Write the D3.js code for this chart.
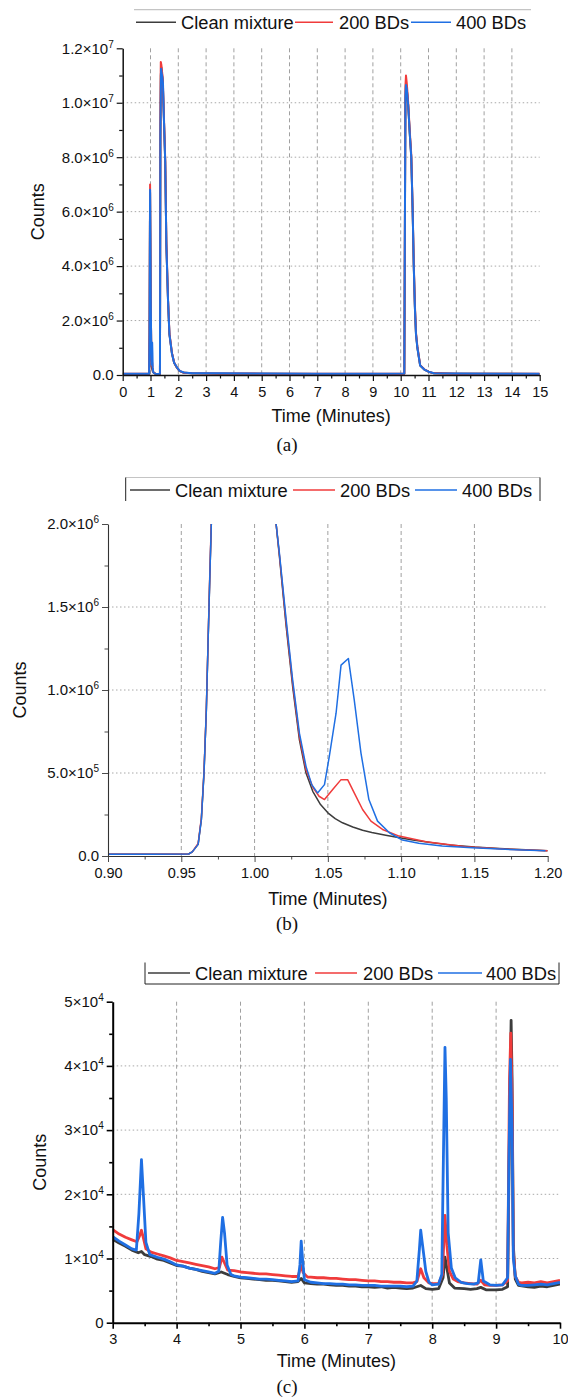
<!DOCTYPE html>
<html>
<head>
<meta charset="utf-8">
<script src="https://cdn.jsdelivr.net/npm/d3@7"></script>
<style>
body { margin: 0; background: #fff; }
</style>
</head>
<body>
<svg id="fig" width="568" height="1398"></svg>
<script>
var seriesNames = ["Clean mixture", "200 BDs", "400 BDs"]
var seriesColors = ["#3c3c3c", "#f03b3b", "#1f6fe3"]

// (a) full run, 0-15 min
var cleanA = [[0,40000],[0.95,40000],[0.965,1500000],[0.975,4200000],[0.985,6700000],[0.995,5200000],[1.01,2500000],[1.03,700000],[1.05,260000],[1.08,140000],[1.12,80000],[1.2,35000],[1.34,40000],
  [1.345,2500000],[1.355,8500000],[1.37,11000000],[1.39,11300000],[1.41,11100000],[1.44,10800000],[1.48,9500000],[1.53,7800000],[1.57,4800000],[1.63,2750000],[1.68,1500000],[1.77,800000],[1.85,450000],[1.94,280000],[2.05,140000],[2.2,80000],[2.5,60000],[3.5,50000],[5,45000],[7,40000],[9,40000],[10.1,45000],
  [10.13,45000],[10.15,5000000],[10.17,10000000],[10.19,10700000],[10.22,10500000],[10.27,9900000],[10.33,8800000],[10.38,8000000],[10.43,6000000],[10.47,4000000],[10.51,2500000],[10.55,1500000],[10.6,1000000],[10.7,350000],[10.85,200000],[11,120000],[11.2,60000],[12,50000],[13.5,45000],[15,40000]]
var bd200A = [[0,45000],[0.95,45000],[0.965,1600000],[0.975,4400000],[0.985,7000000],[0.995,5300000],[1.01,2600000],[1.03,750000],[1.045,350000],[1.06,460000],[1.075,220000],[1.1,100000],[1.2,35000],[1.34,45000],
  [1.345,2800000],[1.355,9000000],[1.37,11500000],[1.39,11400000],[1.41,11200000],[1.44,10900000],[1.48,9600000],[1.53,7900000],[1.57,4900000],[1.63,2800000],[1.68,1550000],[1.77,820000],[1.85,460000],[1.94,290000],[2.05,150000],[2.2,80000],[2.5,60000],[3.5,55000],[5,50000],[7,45000],[9,45000],[10.1,50000],
  [10.13,50000],[10.15,5500000],[10.17,10600000],[10.19,11000000],[10.22,10700000],[10.27,10000000],[10.33,8900000],[10.38,8100000],[10.43,6100000],[10.47,4100000],[10.51,2600000],[10.55,1550000],[10.6,1050000],[10.7,360000],[10.85,210000],[11,120000],[11.2,60000],[12,50000],[13.5,45000],[15,45000]]
var bd400A = [[0,50000],[0.95,50000],[0.965,1500000],[0.975,4200000],[0.985,6800000],[0.995,5200000],[1.01,2600000],[1.03,760000],[1.043,380000],[1.052,700000],[1.06,1190000],[1.07,800000],[1.08,280000],[1.1,100000],[1.13,70000],[1.2,40000],[1.34,50000],
  [1.345,2700000],[1.355,8800000],[1.38,11250000],[1.4,11100000],[1.43,10900000],[1.45,10700000],[1.48,9500000],[1.53,7800000],[1.57,4800000],[1.63,2750000],[1.68,1500000],[1.77,800000],[1.85,450000],[1.94,300000],[2.05,150000],[2.2,90000],[2.5,65000],[3.5,60000],[5,55000],[7,50000],[9,50000],[10.1,55000],
  [10.13,55000],[10.15,5200000],[10.17,10200000],[10.19,10650000],[10.22,10500000],[10.27,9900000],[10.33,8800000],[10.38,8000000],[10.43,6050000],[10.47,4000000],[10.51,2500000],[10.55,1500000],[10.6,1000000],[10.7,350000],[10.85,200000],[11,120000],[11.2,65000],[12,55000],[13.5,50000],[15,50000]]

// (b) zoom on the first peak, 0.90-1.20 min
var cleanB = [[0.9,10000],[0.93,10000],[0.955,12000],[0.9575,25000],[0.9615,70000],[0.9637,220000],[0.9655,500000],[0.9671,880000],[0.9682,1260000],[0.9694,1660000],[0.9705,2000000],[0.975,4000000],[0.985,6800000],[0.995,5000000],[1.005,3000000],[1.0147,2000000],[1.017,1800000],[1.0216,1380000],[1.026,1020000],[1.0306,700000],[1.0351,500000],[1.0397,390000],[1.045,310000],[1.05,260000],[1.055,225000],[1.06,200000],[1.067,175000],[1.0737,155000],[1.08,142000],[1.0895,125000],[1.1,108000],[1.108,96000],[1.12,82000],[1.133,67000],[1.15,54000],[1.167,45000],[1.185,38000],[1.2,32000]]
var bd200B = [[0.9,10000],[0.93,10000],[0.955,12000],[0.9575,25000],[0.9615,75000],[0.9637,230000],[0.9655,510000],[0.9671,890000],[0.9682,1270000],[0.9694,1680000],[0.9705,2020000],[0.975,4100000],[0.985,6900000],[0.995,5000000],[1.005,3000000],[1.0147,2000000],[1.017,1810000],[1.0216,1400000],[1.026,1040000],[1.0306,720000],[1.0351,520000],[1.04,410000],[1.044,360000],[1.0477,340000],[1.0533,400000],[1.059,460000],[1.0635,460000],[1.068,380000],[1.0737,280000],[1.0794,210000],[1.0873,160000],[1.0986,120000],[1.117,86000],[1.144,56000],[1.17,42000],[1.2,32000]]
var bd400B = [[0.9,10000],[0.93,10000],[0.955,12000],[0.9575,25000],[0.9615,70000],[0.9637,220000],[0.9655,500000],[0.9671,880000],[0.9682,1260000],[0.9694,1660000],[0.9705,2000000],[0.975,4000000],[0.985,6800000],[0.995,5000000],[1.005,3000000],[1.0147,2000000],[1.017,1820000],[1.0216,1420000],[1.026,1060000],[1.0306,740000],[1.0351,540000],[1.039,430000],[1.043,380000],[1.0477,430000],[1.051,600000],[1.0556,860000],[1.059,1150000],[1.064,1190000],[1.068,940000],[1.0726,620000],[1.078,340000],[1.0839,210000],[1.092,140000],[1.1009,96000],[1.112,77000],[1.128,60000],[1.1485,50000],[1.171,40000],[1.1985,32000]]

// (c) low-level region, 3-10 min
var cleanC = [[3.0,13000],[3.1,12400],[3.2,11900],[3.3,11300],[3.4,10900],[3.45,11100],[3.5,10600],[3.6,10300],[3.7,9900],[3.8,9700],[3.9,9300],[4.0,8900],[4.1,8800],[4.2,8500],[4.3,8300],[4.4,8000],[4.5,7800],[4.6,7600],[4.7,7900],[4.8,7500],[4.9,7200],[5.0,7000],[5.1,6900],[5.2,6800],[5.3,6700],[5.4,6600],[5.5,6600],[5.6,6500],[5.7,6400],[5.8,6300],[5.9,6400],[5.95,6900],[6.0,6200],[6.1,6100],[6.2,6000],[6.3,6000],[6.4,5900],[6.5,5800],[6.6,5800],[6.7,5700],[6.8,5700],[6.9,5600],[7.0,5600],[7.1,5500],[7.2,5600],[7.3,5400],[7.4,5500],[7.5,5400],[7.6,5300],[7.7,5400],[7.82,5800],[7.9,5300],[8.0,5200],[8.1,5300],[8.17,7000],[8.2,10200],[8.23,8500],[8.27,6200],[8.35,5400],[8.5,5300],[8.6,5200],[8.7,5300],[8.76,5500],[8.85,5100],[9.0,5100],[9.1,5200],[9.18,5600],[9.21,30000],[9.235,47100],[9.25,38000],[9.27,12000],[9.3,6800],[9.35,5800],[9.5,5600],[9.6,5500],[9.7,5700],[9.8,5600],[9.9,5800],[10.0,6000]]
var bd200C = [[3.0,14500],[3.1,13800],[3.2,13300],[3.3,12900],[3.38,12600],[3.42,13500],[3.45,14400],[3.48,13200],[3.52,11500],[3.6,11000],[3.7,10700],[3.8,10400],[3.9,10100],[4.0,9700],[4.1,9500],[4.2,9300],[4.3,9100],[4.4,8900],[4.5,8700],[4.6,8400],[4.67,8600],[4.71,10200],[4.75,9300],[4.8,8200],[4.9,8100],[5.0,7900],[5.1,7800],[5.2,7700],[5.3,7600],[5.4,7600],[5.5,7500],[5.6,7400],[5.7,7300],[5.8,7200],[5.9,7200],[5.95,8900],[5.98,7800],[6.05,7100],[6.1,7100],[6.2,7000],[6.3,7000],[6.4,6900],[6.5,6900],[6.6,6800],[6.7,6700],[6.8,6700],[6.9,6600],[7.0,6500],[7.1,6500],[7.2,6400],[7.3,6400],[7.4,6300],[7.5,6300],[7.6,6200],[7.7,6200],[7.76,6400],[7.82,8400],[7.87,7000],[7.95,6200],[8.0,6100],[8.1,6100],[8.16,7500],[8.2,16700],[8.23,12000],[8.27,8000],[8.33,6800],[8.4,6400],[8.5,6200],[8.6,6100],[8.7,6000],[8.76,6600],[8.82,5900],[8.9,5800],[9.0,5800],[9.1,5900],[9.18,6500],[9.21,38000],[9.23,45100],[9.25,35000],[9.27,11000],[9.3,7200],[9.35,6300],[9.4,6200],[9.5,6300],[9.6,6200],[9.7,6400],[9.8,6200],[9.9,6400],[10.0,6600]]
var bd400C = [[3.0,13400],[3.1,12700],[3.2,12100],[3.3,11500],[3.37,11300],[3.41,17000],[3.45,25400],[3.48,20000],[3.52,12500],[3.58,10600],[3.7,10200],[3.8,9900],[3.9,9500],[4.0,9000],[4.1,8800],[4.2,8500],[4.3,8300],[4.4,8100],[4.5,7900],[4.6,7700],[4.66,8000],[4.69,12500],[4.72,16400],[4.75,14000],[4.79,9000],[4.85,7500],[4.9,7300],[5.0,7100],[5.1,7000],[5.2,6900],[5.3,6800],[5.4,6800],[5.5,6700],[5.6,6600],[5.7,6500],[5.8,6400],[5.9,6500],[5.93,9000],[5.95,12700],[5.97,10000],[6.0,6700],[6.1,6300],[6.2,6200],[6.3,6100],[6.4,6100],[6.5,6000],[6.6,6000],[6.7,5900],[6.8,5900],[6.9,5800],[7.0,5800],[7.1,5800],[7.2,5700],[7.3,5700],[7.4,5700],[7.5,5700],[7.6,5600],[7.7,5700],[7.76,6500],[7.8,11500],[7.82,14400],[7.85,12000],[7.9,8000],[7.95,6300],[8.0,5900],[8.1,6000],[8.15,7500],[8.17,22000],[8.2,42900],[8.22,35000],[8.25,14000],[8.3,8500],[8.36,7000],[8.45,6300],[8.55,6100],[8.65,6000],[8.72,6200],[8.76,9800],[8.8,6500],[8.9,5900],[9.0,5800],[9.1,5900],[9.18,7000],[9.2,25000],[9.225,41000],[9.25,30000],[9.27,10000],[9.3,7300],[9.35,6000],[9.4,5800],[9.5,5800],[9.6,5900],[9.7,6000],[9.8,5900],[9.9,6100],[10.0,6300]]

// tick values
var xTicksA = [0,1,2,3,4,5,6,7,8,9,10,11,12,13,14,15]
var yTicksA = [0,2e6,4e6,6e6,8e6,1e7,1.2e7]
var xTicksB = [0.90,0.95,1.00,1.05,1.10,1.15,1.20]
var yTicksB = [0,5e5,1e6,1.5e6,2e6]
var xTicksC = [3,4,5,6,7,8,9,10]
var yTicksC = [0,1e4,2e4,3e4,4e4,5e4]

var FONT = "'Liberation Sans', Arial, sans-serif"
var svg = d3.select("#fig")

var sciTicks = function(sel, digits) {
    sel.selectAll(".tick text").each(function(v) {
        var t = d3.select(this).text("")
        if (v === 0) {
            t.text(digits ? "0.0" : "0")
            return
        }
        var e = Math.floor(Math.log10(v) + 1e-9)
        var m = v / Math.pow(10, e)
        t.append("tspan").text(m.toFixed(digits) + "×10")
        t.append("tspan").attr("dy", -6).attr("font-size", 10).text(e)
    })
}

var mids = function(arr) {
    var out = []
    for (var i = 0; i < arr.length - 1; i++) out.push((arr[i] + arr[i + 1]) / 2)
    return out
}

var panel = function(p) {
    var x = d3.scaleLinear().domain([p.xTicks[0], p.xTicks[p.xTicks.length - 1]]).range([p.left, p.right])
    var y = d3.scaleLinear().domain([0, p.yTicks[p.yTicks.length - 1]]).range([p.bottom, p.top])
    var g = svg.append("g")

    g.selectAll(".vgrid").data(p.xTicks.slice(1, -1)).enter().append("line")
        .attr("x1", x).attr("x2", x).attr("y1", p.top).attr("y2", p.bottom)
        .attr("stroke", "#a0a0a0").attr("stroke-width", 1).attr("stroke-dasharray", "4,3")
    g.selectAll(".hgrid").data(p.yTicks.slice(1, -1)).enter().append("line")
        .attr("x1", p.left).attr("x2", p.right).attr("y1", y).attr("y2", y)
        .attr("stroke", "#a8a8a8").attr("stroke-width", 1).attr("stroke-dasharray", "1.5,2.5")

    var clipId = "clip" + p.id
    svg.append("clipPath").attr("id", clipId).append("rect")
        .attr("x", p.left).attr("y", p.top).attr("width", p.right - p.left).attr("height", p.bottom - p.top)

    var line = d3.line().x(function(d) { return x(d[0]) }).y(function(d) { return y(d[1]) })
    p.series.forEach(function(s, i) {
        g.append("path").datum(s)
            .attr("clip-path", "url(#" + clipId + ")")
            .attr("d", line)
            .attr("fill", "none")
            .attr("stroke", seriesColors[i])
            .attr("stroke-width", p.lineWidth)
            .attr("stroke-linejoin", "round")
    })

    // minor ticks
    g.append("g").attr("transform", "translate(0," + p.bottom + ")")
        .call(d3.axisBottom(x).tickValues(mids(p.xTicks)).tickSize(3.5).tickFormat(""))
        .call(function(a) { a.select(".domain").remove() })
        .selectAll("line").attr("stroke", p.axisColor).attr("stroke-width", p.axisWidth * 0.8)
    g.append("g").attr("transform", "translate(" + p.left + ",0)")
        .call(d3.axisLeft(y).tickValues(mids(p.yTicks)).tickSize(3.5).tickFormat(""))
        .call(function(a) { a.select(".domain").remove() })
        .selectAll("line").attr("stroke", p.axisColor).attr("stroke-width", p.axisWidth * 0.8)

    var xa = g.append("g").attr("transform", "translate(0," + p.bottom + ")")
        .call(d3.axisBottom(x).tickValues(p.xTicks).tickFormat(p.xFormat).tickSize(6).tickSizeOuter(0).tickPadding(5.5))
        .attr("font-family", FONT).attr("font-size", 14.5)
    var ya = g.append("g").attr("transform", "translate(" + p.left + ",0)")
        .call(d3.axisLeft(y).tickValues(p.yTicks).tickSize(6).tickSizeOuter(0).tickPadding(3))
        .attr("font-family", FONT).attr("font-size", 15)
    ya.call(sciTicks, p.digits)
    ;[xa, ya].forEach(function(a) {
        a.select(".domain").attr("stroke", p.axisColor).attr("stroke-width", p.axisWidth)
        a.selectAll(".tick line").attr("stroke", p.axisColor).attr("stroke-width", p.axisWidth * 0.8)
        a.selectAll(".tick text").attr("fill", "#111")
    })

    svg.append("text")
        .attr("transform", "translate(" + p.yTitleX + "," + (p.top + p.bottom) / 2 + ") rotate(-90)")
        .attr("text-anchor", "middle").attr("dy", "0.35em")
        .attr("font-family", FONT).attr("font-size", 18).attr("fill", "#111")
        .text("Counts")
    svg.append("text")
        .attr("x", (p.left + p.right) / 2).attr("y", p.xTitleY)
        .attr("text-anchor", "middle")
        .attr("font-family", FONT).attr("font-size", 18).attr("fill", "#111")
        .text("Time (Minutes)")
    svg.append("text")
        .attr("x", 287).attr("y", p.tagY)
        .attr("text-anchor", "middle")
        .attr("font-family", "'Liberation Serif', 'Times New Roman', serif").attr("font-size", 19).attr("fill", "#111")
        .text(p.tag)
}

// lines: [x1, x2, textX] per entry
var legend = function(L) {
    var g = svg.append("g")
    seriesNames.forEach(function(name, i) {
        var it = L.items[i]
        g.append("line")
            .attr("x1", it[0]).attr("x2", it[1]).attr("y1", L.lineY).attr("y2", L.lineY)
            .attr("stroke", seriesColors[i]).attr("stroke-width", 1.6)
        g.append("text").attr("x", it[2]).attr("y", L.textY)
            .attr("font-family", FONT).attr("font-size", 18.3).attr("fill", "#111")
            .text(name)
    })
    if (L.top != null) {
        g.append("line").attr("x1", L.x0).attr("x2", L.x1).attr("y1", L.top).attr("y2", L.top)
            .attr("stroke", "#c4c4c4").attr("stroke-width", 1.2)
    }
    if (L.sides) {
        g.append("line").attr("x1", L.x0).attr("x2", L.x0).attr("y1", L.sides[0]).attr("y2", L.sides[1])
            .attr("stroke", "#222").attr("stroke-width", 1)
        g.append("line").attr("x1", L.x1).attr("x2", L.x1).attr("y1", L.sides[0]).attr("y2", L.sides[1])
            .attr("stroke", "#222").attr("stroke-width", 1)
    }
    if (L.bottom != null) {
        g.append("line").attr("x1", L.x0).attr("x2", L.x1).attr("y1", L.bottom).attr("y2", L.bottom)
            .attr("stroke", "#222").attr("stroke-width", 1)
    }
}

panel({
    id: "a", tag: "(a)", series: [cleanA, bd200A, bd400A],
    xTicks: xTicksA, yTicks: yTicksA, digits: 1, xFormat: d3.format("d"),
    left: 122.7, right: 539.7, top: 48.3, bottom: 375,
    lineWidth: 2, axisWidth: 1.5, axisColor: "#111",
    yTitleX: 38, xTitleY: 422, tagY: 451
})
legend({ items: [[136, 176, 181], [295, 333, 339], [411, 451, 456]], lineY: 22.3, textY: 28.5, x0: 134, x1: 531, top: 9.7 })

panel({
    id: "b", tag: "(b)", series: [cleanB, bd200B, bd400B],
    xTicks: xTicksB, yTicks: yTicksB, digits: 1, xFormat: d3.format(".2f"),
    left: 108, right: 547.7, top: 524, bottom: 856,
    lineWidth: 1.5, axisWidth: 1.1, axisColor: "#333",
    yTitleX: 20, xTitleY: 905, tagY: 930
})
legend({ items: [[130, 170, 175], [293, 335, 340], [415, 457, 462]], lineY: 490, textY: 496.5, x0: 125.7, x1: 540, top: 477.5, sides: [477.5, 501] })

panel({
    id: "c", tag: "(c)", series: [cleanC, bd200C, bd400C],
    xTicks: xTicksC, yTicks: yTicksC, digits: 0, xFormat: d3.format("d"),
    left: 112.7, right: 560, top: 1001.7, bottom: 1322.7,
    lineWidth: 2.8, axisWidth: 2, axisColor: "#000",
    yTitleX: 40, xTitleY: 1367, tagY: 1393
})
legend({ items: [[148, 190, 195], [315, 357, 363], [438, 482, 486]], lineY: 973, textY: 980, x0: 145, x1: 559, sides: [962.5, 984], bottom: 984 })
</script>
</body>
</html>
